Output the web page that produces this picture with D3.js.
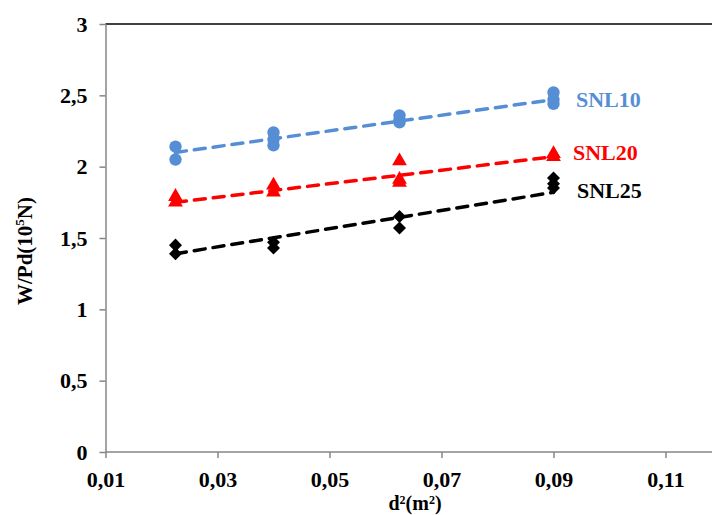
<!DOCTYPE html>
<html><head><meta charset="utf-8">
<script src="https://cdn.jsdelivr.net/npm/d3@7"></script>
<style>body{margin:0;background:#fff}svg{display:block}text{font-family:"Liberation Serif","Times New Roman",serif;font-weight:bold}</style>
</head><body>
<script>
// Data
const snl10X = [0.0225,0.0225,0.04,0.04,0.04,0.0625,0.0625,0.0625,0.09,0.09,0.09];
const snl10Y = [2.14,2.05,2.24,2.19,2.15,2.36,2.33,2.31,2.52,2.47,2.44];
const snl20X = [0.0225,0.0225,0.04,0.04,0.0625,0.0625,0.0625,0.09,0.09];
const snl20Y = [1.79,1.75,1.87,1.82,2.04,1.91,1.89,2.09,2.07];
const snl25X = [0.0225,0.0225,0.04,0.04,0.0625,0.0625,0.09,0.09,0.09];
const snl25Y = [1.45,1.39,1.47,1.43,1.65,1.57,1.92,1.88,1.85];
const trendX = [0.0225,0.09];
const trend10 = [2.10,2.47];
const trend20 = [1.75,2.07];
const trend25 = [1.39,1.82];
const seriesNames = ["SNL10","SNL20","SNL25"];
const xTicks = [0.01,0.03,0.05,0.07,0.09,0.11];
const xTickLabels = ["0,01","0,03","0,05","0,07","0,09","0,11"];
const yTicks = [0,0.5,1,1.5,2,2.5,3];
const yTickLabels = ["0","0,5","1","1,5","2","2,5","3"];

const W=712,H=515;
const svg=d3.select("body").append("svg").attr("width",W).attr("height",H);
const x=d3.scaleLinear().domain([0.01,0.13]).range([105.5,777.5]);
const y=d3.scaleLinear().domain([0,3]).range([452,24]);
const axisCol="#868686";

// top border line
svg.append("line").attr("x1",x(0.01)).attr("x2",W).attr("y1",y(3)).attr("y2",y(3)).attr("stroke","#000").attr("stroke-width",1.5);

// axes
const xa=svg.append("g").attr("transform","translate(0,452)")
  .call(d3.axisBottom(x).tickValues(xTicks).tickFormat((d,i)=>xTickLabels[i]).tickSize(6).tickSizeOuter(0));
const ya=svg.append("g").attr("transform","translate(105.5,0)")
  .call(d3.axisLeft(y).tickValues(yTicks).tickFormat((d,i)=>yTickLabels[i]).tickSize(6).tickSizeOuter(0));
[xa,ya].forEach(a=>{
  a.select(".domain").attr("stroke",axisCol).attr("stroke-width",1.5);
  a.selectAll(".tick line").attr("stroke",axisCol).attr("stroke-width",1.5);
  a.selectAll(".tick text").attr("fill","#000").style("font-size","22px").style("font-family","Liberation Serif").style("font-weight","bold");
});
xa.select(".domain").attr("d","M105.5,0H712");
xa.selectAll(".tick text").attr("y",35).attr("dy",0);
ya.selectAll(".tick text").attr("x",-18);

svg.append("text").attr("x",415).attr("y",510).attr("text-anchor","middle").style("font-size","20px").html("d<tspan font-size='12px' dy='-6'>2</tspan><tspan dy='6'>(m</tspan><tspan font-size='12px' dy='-6'>2</tspan><tspan dy='6'>)</tspan>");
svg.append("text").attr("transform","translate(32,251) rotate(-90)").attr("text-anchor","middle").style("font-size","21px")
  .html("W/Pd(10<tspan font-size='13px' dy='-8'>5</tspan><tspan dy='8'>N)</tspan>");

const diamond={draw(ctx,size){const r=Math.sqrt(size)/Math.SQRT2;ctx.moveTo(0,-r);ctx.lineTo(r,0);ctx.lineTo(0,r);ctx.lineTo(-r,0);ctx.closePath();}};
const series=[
  {xs:snl10X,ys:snl10Y,t:trend10,c:"#558ED5",shape:d3.symbolCircle,size:120,lab:[576,107]},
  {xs:snl20X,ys:snl20Y,t:trend20,c:"#FF0000",shape:d3.symbolTriangle,size:95,lab:[573,160]},
  {xs:snl25X,ys:snl25Y,t:trend25,c:"#000000",shape:diamond,size:85,lab:[577,198]}
];
series.forEach((s,si)=>{
  svg.append("g").selectAll("path").data(s.xs.map((v,i)=>[v,s.ys[i]])).join("path")
    .attr("d",d3.symbol().type(s.shape).size(s.size))
    .attr("transform",d=>`translate(${x(d[0])},${y(d[1])})`)
    .attr("fill",s.c);
  svg.append("path").datum(trendX.map((v,i)=>[v,s.t[i]]))
    .attr("d",d3.line().x(d=>x(d[0])).y(d=>y(d[1])))
    .attr("stroke",s.c).attr("stroke-width",3.5).attr("fill","none")
    .attr("stroke-dasharray","11,8").attr("stroke-linecap","round");
  svg.append("text").attr("x",s.lab[0]).attr("y",s.lab[1]).attr("fill",s.c).style("font-size","22px").text(seriesNames[si]);
});
</script>
</body></html>
